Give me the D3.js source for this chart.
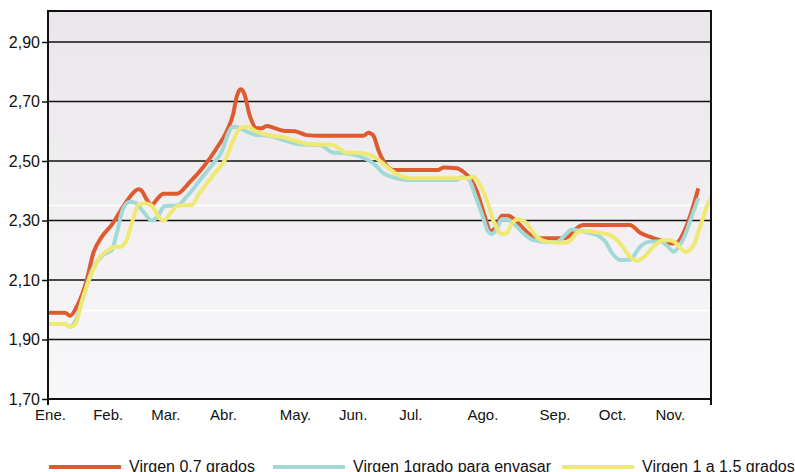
<!DOCTYPE html>
<html><head><meta charset="utf-8">
<script src="https://cdn.jsdelivr.net/npm/d3@7"></script>
<style>
html,body{margin:0;padding:0;background:#fff;}
text{font-family:"Liberation Sans",Arial,Helvetica,sans-serif;fill:#111;}
</style></head>
<body><svg id="c" width="795" height="472"></svg>
<script>
// Month labels and their week positions (weekly series, Jan..Nov)
const months = ["Ene.","Feb.","Mar.","Abr.","May.","Jun.","Jul.","Ago.","Sep.","Oct.","Nov."];
const monthWeeks = [0,4,8,12,17,21,25,30,35,39,43];
const yTicks = [1.70,1.90,2.10,2.30,2.50,2.70,2.90];
const seriesNames = ["Virgen 0,7 grados","Virgen 1grado para envasar","Virgen 1 a 1,5 grados"];

// [week, €/kg]
const virgen07 = [
[0,1.99],[1.18,1.99],[1.53,1.98],[1.99,2.01],[2.69,2.10],[3.14,2.19],[3.73,2.245],[4.42,2.285],
[5.0,2.33],[5.69,2.38],[6.27,2.405],[6.5,2.40],[6.85,2.37],[7.2,2.352],[7.54,2.37],[8.0,2.39],
[8.93,2.39],[9.85,2.43],[10.78,2.48],[11.7,2.543],[12.4,2.60],[12.86,2.66],[13.09,2.716],[13.37,2.741],
[13.6,2.728],[14.02,2.649],[14.48,2.61],[14.83,2.61],[15.17,2.618],[15.63,2.612],[16.33,2.602],[17.14,2.60],
[17.95,2.587],[18.87,2.585],[21.88,2.585],[22.23,2.595],[22.58,2.585],[22.92,2.537],[23.38,2.492],[23.96,2.47],
[27.08,2.47],[27.43,2.478],[28.36,2.476],[28.81,2.464],[29.28,2.442],[29.74,2.40],[30.2,2.33],[30.72,2.265],
[31.13,2.28],[31.48,2.316],[31.94,2.316],[32.52,2.296],[33.44,2.253],[34.14,2.24],[35.75,2.24],[36.22,2.25],
[36.68,2.274],[37.14,2.285],[40.38,2.285],[41.08,2.259],[41.77,2.245],[42.46,2.234],[43.27,2.223],[43.62,2.225],
[44.08,2.257],[44.54,2.313],[45.12,2.408]
];
const virgen1envasar = [
[0,1.952],[1.18,1.952],[1.53,1.943],[1.87,1.96],[2.45,2.044],[3.03,2.13],[3.82,2.184],[4.42,2.20],
[4.77,2.257],[5.22,2.341],[5.69,2.363],[6.04,2.36],[6.61,2.33],[7.2,2.30],[7.54,2.31],[8.12,2.349],
[8.93,2.35],[9.62,2.38],[10.55,2.436],[11.47,2.492],[12.05,2.531],[12.51,2.593],[12.81,2.615],[13.09,2.614],
[13.79,2.599],[14.48,2.587],[15.17,2.586],[16.33,2.57],[17.48,2.556],[18.87,2.554],[19.8,2.528],[20.49,2.527],
[22.11,2.506],[22.69,2.487],[23.26,2.459],[23.96,2.445],[24.89,2.436],[28.36,2.436],[28.7,2.445],[29.16,2.44],
[29.63,2.386],[30.09,2.324],[30.55,2.262],[30.78,2.255],[31.13,2.27],[31.48,2.304],[31.83,2.304],[32.29,2.29],
[32.98,2.257],[33.68,2.234],[34.6,2.228],[35.3,2.228],[35.88,2.251],[36.34,2.27],[36.92,2.265],[38.08,2.251],
[38.65,2.23],[39.23,2.184],[39.69,2.167],[40.38,2.168],[41.08,2.212],[41.77,2.229],[42.46,2.23],[43.16,2.205],
[43.39,2.195],[43.74,2.21],[44.2,2.251],[44.66,2.313],[45.12,2.375]
];
const virgen1a15 = [
[0,1.952],[1.18,1.952],[1.53,1.943],[1.87,1.95],[2.45,2.044],[3.03,2.122],[3.61,2.178],[4.18,2.20],
[4.65,2.212],[5.0,2.212],[5.41,2.229],[5.81,2.29],[6.27,2.352],[6.73,2.358],[7.2,2.35],[7.65,2.313],
[8.05,2.30],[8.58,2.33],[9.04,2.35],[9.97,2.352],[10.43,2.386],[11.47,2.453],[12.4,2.514],[12.86,2.57],
[13.32,2.61],[13.79,2.615],[14.48,2.599],[15.63,2.584],[16.33,2.58],[17.48,2.563],[18.17,2.556],[19.68,2.555],
[20.73,2.528],[21.65,2.527],[22.8,2.509],[23.5,2.481],[24.19,2.456],[25.12,2.442],[29.05,2.442],[29.51,2.447],
[29.97,2.42],[30.44,2.369],[30.9,2.30],[31.48,2.255],[31.83,2.258],[32.18,2.29],[32.64,2.304],[33.1,2.295],
[33.91,2.245],[34.6,2.229],[35.88,2.225],[36.22,2.232],[36.8,2.262],[37.26,2.265],[38.08,2.26],[39.0,2.251],
[39.69,2.223],[40.38,2.178],[40.85,2.165],[41.31,2.175],[42.0,2.212],[42.7,2.234],[43.16,2.234],[43.62,2.222],
[44.2,2.195],[44.77,2.215],[45.24,2.279],[45.7,2.346],[46.05,2.38]
];
const colors = ["#e05a2f","#a2d9d7","#efe873"];
const series = [virgen07, virgen1envasar, virgen1a15];

const svg = d3.select("#c");
const L = 48, R = 711, T = 11, B = 399;
const x = d3.scaleLinear().domain([0,46]).range([L,R]);
const y = d3.scaleLinear().domain([1.70,3.0]).range([B,12.25]);

const defs = svg.append("defs");
const grad = defs.append("linearGradient").attr("id","bg").attr("x1",0).attr("y1",0).attr("x2",0).attr("y2",1);
grad.append("stop").attr("offset","0%").attr("stop-color","#eae6eb");
grad.append("stop").attr("offset","100%").attr("stop-color","#f8f7f9");
defs.append("clipPath").attr("id","clip").append("rect").attr("x",L).attr("y",T).attr("width",R-L).attr("height",B-T);

svg.append("rect").attr("x",L).attr("y",T).attr("width",R-L).attr("height",B-T).attr("fill","url(#bg)");
// faint white bands
[2.0,2.352].forEach(v=>{
  svg.append("line").attr("x1",L).attr("x2",R).attr("y1",Math.round(y(v))+0.5).attr("y2",Math.round(y(v))+0.5)
    .attr("stroke","#ffffff").attr("stroke-width",1.5);
});

// grid lines
svg.append("g").selectAll("line").data(yTicks.slice(1)).join("line")
  .attr("x1",L).attr("x2",R).attr("y1",d=>y(d)).attr("y2",d=>y(d))
  .attr("stroke","#111").attr("stroke-width",1.5);

// y axis
const yAxis = d3.axisLeft(y).tickValues(yTicks).tickSize(6).tickPadding(2)
  .tickFormat(d=>d3.format(".2f")(d).replace(".",","));
const ya = svg.append("g").attr("transform",`translate(${L},0)`).call(yAxis);
ya.select(".domain").remove();
ya.selectAll("line").attr("stroke","#111").attr("stroke-width",1.5);
ya.selectAll("text").attr("font-size",16).style("font-family","Liberation Sans, Arial, sans-serif").attr("fill","#111");

// x axis labels
const xa = d3.axisBottom(x).tickValues(monthWeeks).tickSize(0).tickPadding(10)
  .tickFormat((d,i)=>months[i]);
const xg = svg.append("g").attr("transform",`translate(2,${B})`).call(xa);
xg.select(".domain").remove();
xg.selectAll("text").attr("font-size",15).style("font-family","Liberation Sans, Arial, sans-serif").attr("fill","#111");

// lines
const line = d3.line().x(d=>x(d[0])).y(d=>y(d[1])).curve(d3.curveMonotoneX);
const lg = svg.append("g").attr("clip-path","url(#clip)");
[1,0,2].forEach(i=>{});
series.forEach((s,i)=>{
  lg.append("path").datum(s).attr("d",line).attr("fill","none")
    .attr("stroke",colors[i]).attr("stroke-width",4).attr("stroke-linejoin","round");
});

// frame
svg.append("path").attr("d",`M${L},${T}H${R}`).attr("stroke","#111").attr("stroke-width",2).attr("fill","none");
svg.append("path").attr("d",`M${L},${T-1}V${B+6}`).attr("stroke","#111").attr("stroke-width",2).attr("fill","none");
svg.append("path").attr("d",`M${R},${T-1}V${B+6}`).attr("stroke","#111").attr("stroke-width",2).attr("fill","none");
svg.append("path").attr("d",`M${L},${B}H${R}`).attr("stroke","#111").attr("stroke-width",2).attr("fill","none");

// legend
const legX = [49, 273, 562];
const leg = svg.append("g");
seriesNames.forEach((n,i)=>{
  leg.append("line").attr("x1",legX[i]).attr("x2",legX[i]+72).attr("y1",467).attr("y2",467)
    .attr("stroke",colors[i]).attr("stroke-width",4);
  leg.append("text").attr("x",legX[i]+80).attr("y",472).attr("font-size",16).text(n);
});
</script></body></html>
